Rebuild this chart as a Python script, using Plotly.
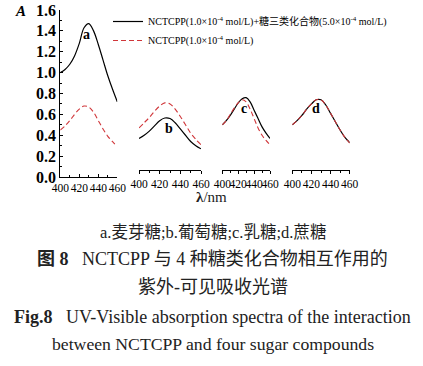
import plotly.graph_objects as go

wavelength = [400, 405, 410, 415, 420, 425, 430, 435, 440, 445, 450, 455, 460]

# a. maltose
a_mix = [1.00, 1.03, 1.08, 1.16, 1.28, 1.43, 1.47, 1.40, 1.27, 1.12, 0.97, 0.84, 0.72]
a_ref = [0.45, 0.49, 0.54, 0.60, 0.65, 0.68, 0.67, 0.62, 0.54, 0.46, 0.39, 0.34, 0.29]
# b. glucose
b_mix = [0.37, 0.40, 0.44, 0.49, 0.54, 0.565, 0.56, 0.52, 0.46, 0.40, 0.34, 0.30, 0.27]
b_ref = [0.47, 0.52, 0.57, 0.63, 0.68, 0.71, 0.70, 0.65, 0.58, 0.50, 0.42, 0.36, 0.31]
# c. lactose
c_mix = [0.50, 0.54, 0.59, 0.65, 0.71, 0.75, 0.76, 0.72, 0.64, 0.56, 0.48, 0.42, 0.37]
c_ref = [0.50, 0.54, 0.60, 0.66, 0.71, 0.74, 0.72, 0.65, 0.56, 0.47, 0.40, 0.35, 0.31]
# d. sucrose
d_mix = [0.50, 0.54, 0.59, 0.65, 0.70, 0.74, 0.74, 0.69, 0.61, 0.53, 0.45, 0.38, 0.33]
d_ref = [0.50, 0.54, 0.59, 0.65, 0.70, 0.74, 0.74, 0.69, 0.61, 0.53, 0.45, 0.38, 0.325]

panel_labels = ["a", "b", "c", "d"]
label_pos = [(428, 1.37), (429, 0.46), (427, 0.66), (425, 0.66)]

x_ticks = [400, 420, 440, 460]
y_ticks = [0.0, 0.2, 0.4, 0.6, 0.8, 1.0, 1.2, 1.4, 1.6]

legend_mix = "NCTCPP(1.0×10<sup>-4</sup> mol/L)+糖三类化合物(5.0×10<sup>-4</sup> mol/L)"
legend_ref = "NCTCPP(1.0×10<sup>-4</sup> mol/L)"

W, H = 423, 366
TOP, BOT = 10, 177
def py(ypix):
    return (BOT - ypix) / (BOT - TOP)

SERIF = "Liberation Serif, Noto Sans CJK SC"
fig = go.Figure()

mix_sets = [a_mix, b_mix, c_mix, d_mix]
ref_sets = [a_ref, b_ref, c_ref, d_ref]
xaxes = ["x", "x2", "x3", "x4"]
for i in range(4):
    fig.add_trace(go.Scatter(x=wavelength, y=mix_sets[i], xaxis=xaxes[i], yaxis="y",
                             mode="lines", line=dict(color="black", width=1.2, shape="spline"),
                             name=legend_mix, showlegend=(i == 0), legendrank=1))
    fig.add_trace(go.Scatter(x=wavelength, y=ref_sets[i], xaxis=xaxes[i], yaxis="y",
                             mode="lines", line=dict(color="#d0363a", width=1.1, dash="5px,3px", shape="spline"),
                             name=legend_ref, showlegend=(i == 0), legendrank=2))

domains = [(60.3, 117.3), (139, 201), (222.3, 270), (292.3, 349.7)]
ax_common = dict(range=[400, 460], tickvals=x_ticks, showline=True, linecolor="black", linewidth=1,
                 showgrid=False, zeroline=False, tickangle=0, automargin=False,
                 tickfont=dict(family=SERIF, size=11.5, color="black"),
                 tickcolor="black", ticklen=3)
layout = {}
for i in range(4):
    key = "xaxis" if i == 0 else "xaxis%d" % (i + 1)
    d = dict(ax_common)
    d["domain"] = [domains[i][0] / W, domains[i][1] / W]
    if i == 0:
        d.update(anchor="y", ticks="inside", ticklabelstandoff=0,
                 minor=dict(dtick=10, tick0=400, ticklen=2, tickcolor="black", ticks="inside"))
    else:
        d.update(anchor="free", position=py(170), ticks="outside",
                 minor=dict(dtick=10, tick0=400, ticklen=2, tickcolor="black", ticks="outside"))
    layout[key] = d

fig.update_layout(**layout)
fig.update_layout(
    width=W, height=H,
    margin=dict(l=0, r=0, t=TOP, b=H - BOT, autoexpand=False),
    paper_bgcolor="white", plot_bgcolor="white",
    yaxis=dict(range=[0, 1.6], tickvals=y_ticks, tickformat=".1f", anchor="x", domain=[0, 1],
               showline=True, linecolor="black", linewidth=1, ticks="inside", ticklen=3,
               tickcolor="black", showgrid=False, zeroline=False, automargin=False,
               minor=dict(dtick=0.1, ticklen=2, ticks="inside", tickcolor="black"),
               tickfont=dict(family=SERIF, size=16, color="black", weight="bold")),
    showlegend=True,
    legend=dict(x=108 / W, y=py(7), xanchor="left", yanchor="top", bgcolor="rgba(0,0,0,0)",
                font=dict(family=SERIF, size=10, color="black"), itemwidth=30,
                tracegroupgap=0, traceorder="normal"),
)

for lab, (lx, ly), xa in zip(panel_labels, label_pos, xaxes):
    fig.add_annotation(x=lx, y=ly, xref=xa, yref="y", text="<b>%s</b>" % lab, showarrow=False,
                       font=dict(family=SERIF, size=14, color="black"))

fig.add_annotation(x=28 / W, y=py(11), xref="paper", yref="paper", text="<b><i>A</i></b>",
                   xanchor="right", yanchor="middle",
                   showarrow=False, font=dict(family=SERIF, size=15, color="black"))

captions = [
    ("<b>λ</b>/nm", 212, 197, 15),
    ("a.麦芽糖;b.葡萄糖;c.乳糖;d.蔗糖", 213, 232, 16.5),
    ("<b>图 8</b>   NCTCPP 与 4 种糖类化合物相互作用的", 213, 259, 18),
    ("紫外-可见吸收光谱", 213, 287, 18),
    ("<b>Fig.8</b>   UV-Visible absorption spectra of the interaction", 213, 317, 18),
    ("between NCTCPP and four sugar compounds", 213, 344, 17.7),
]
for txt, cx, cy, fs in captions:
    fig.add_annotation(x=cx / W, y=py(cy), xref="paper", yref="paper", text=txt, showarrow=False,
                       xanchor="center", yanchor="middle",
                       font=dict(family=SERIF, size=fs, color="#222"))

fig.write_html("out.html", config={"displayModeBar": False},
               post_script="document.body.style.margin='0';document.body.style.overflow='hidden';")
